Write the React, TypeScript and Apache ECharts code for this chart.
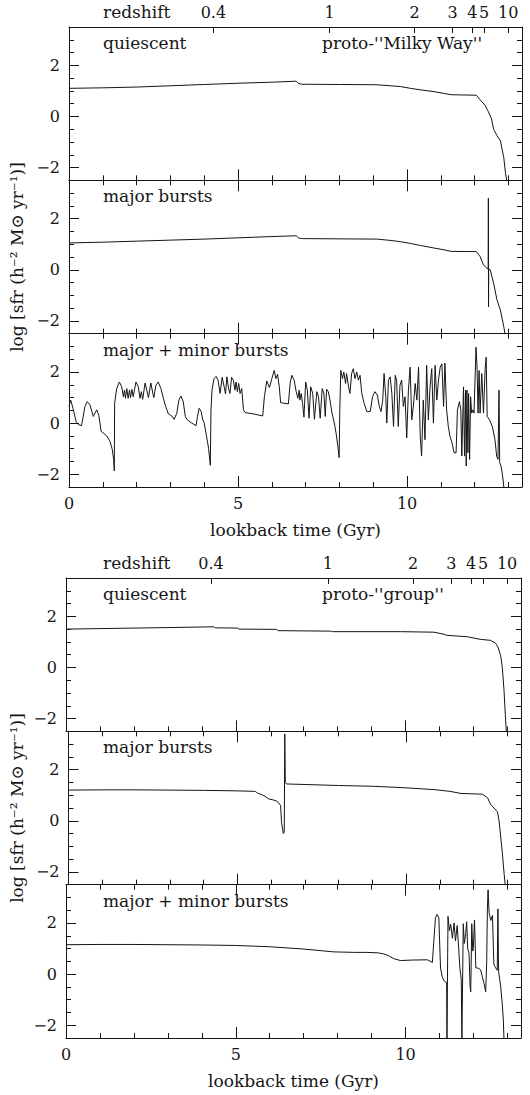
import React, { useEffect, useRef } from "react";
import * as echarts from "echarts";

// ---------- axis values ----------
const T_MAX = 13.4;
const Y_MIN = -2.5;
const Y_MAX = 3.5;
const redshiftLabels = ["0.4", "1", "2", "3", "4", "5", "10"];
const redshiftLookback = [4.27, 7.71, 10.22, 11.35, 11.93, 12.28, 12.99];
const xMajorTicks = [5, 10];
const xTickLabels = [0, 5, 10];
const yMajorTicks = [-2, 0, 2];

const panelLabels = ["quiescent", "major bursts", "major + minor bursts"];
const figureLabels = ["proto-''Milky Way''", "proto-''group''"];
const xName = "lookback time (Gyr)";
const yName = "log [sfr (h⁻² M⊙ yr⁻¹)]";

// ---------- series: [lookback time (Gyr), log sfr] ----------
const mwQuiescent = [
  [0, 1.1], [1, 1.12], [2, 1.15], [3, 1.2], [4, 1.25], [5, 1.3], [6, 1.34], [6.72, 1.38],
  [6.8, 1.28], [6.9, 1.26], [8, 1.25], [9.1, 1.24], [9.5, 1.2], [9.8, 1.17], [10.1, 1.1],
  [10.4, 1.04], [10.8, 0.97], [11.1, 0.9], [11.3, 0.85], [12.05, 0.83], [12.16, 0.65],
  [12.3, 0.45], [12.4, 0.2], [12.5, -0.1], [12.56, -0.5], [12.66, -0.75], [12.76, -0.95],
  [12.86, -1.6], [12.91, -2.2], [12.96, -2.6],
];

const mwMajor = [
  [0, 1.05], [1, 1.08], [2, 1.12], [3, 1.16], [4, 1.2], [5, 1.25], [6, 1.3], [6.72, 1.33],
  [6.8, 1.24], [6.9, 1.22], [8, 1.21], [9.1, 1.2], [9.5, 1.15], [9.8, 1.1], [10.1, 1.03],
  [10.4, 0.95], [10.8, 0.85], [11.1, 0.78], [11.3, 0.72], [12.05, 0.71], [12.16, 0.52],
  [12.26, 0.19], [12.36, 0.06], [12.4, 0.04], [12.405, 2.8], [12.41, -1.45], [12.415, 0.02],
  [12.46, 0.0], [12.56, -0.52], [12.66, -1.18], [12.76, -1.57], [12.86, -2.22], [12.91, -2.6],
];

const mwBursts = [
  [0, 0.65], [0.05, 0.9], [0.13, 0.52], [0.21, 0.06], [0.28, -0.06], [0.37, -0.1], [0.42, 0.26],
  [0.47, 0.65], [0.54, 0.84], [0.62, 0.71], [0.72, 0.26], [0.77, 0.39], [0.82, 0.52], [0.88, 0.32],
  [0.95, -0.32], [1.11, -0.49], [1.21, -0.71], [1.28, -1.03], [1.32, -1.42], [1.34, -1.87],
  [1.35, 0.77], [1.41, 1.35], [1.49, 1.61], [1.56, 1.42], [1.61, 1.03], [1.64, 1.29], [1.67, 0.97],
  [1.71, 1.35], [1.75, 0.97], [1.79, 1.29], [1.82, 1.0], [1.86, 1.32], [1.9, 1.03], [1.98, 1.61],
  [2.05, 1.42], [2.1, 0.97], [2.14, 1.23], [2.18, 0.93], [2.25, 1.57], [2.3, 1.29], [2.35, 1.0],
  [2.42, 1.57], [2.48, 1.16], [2.51, 1.0], [2.57, 1.48], [2.64, 1.61], [2.72, 1.35], [2.79, 0.97],
  [2.86, 0.65], [2.94, 0.36], [3.04, 0.28], [3.11, 0.15], [3.19, 0.39], [3.25, 0.9], [3.31, 1.06],
  [3.38, 0.84], [3.44, 0.26], [3.5, 0.13], [3.63, 0.0], [3.76, -0.1], [3.8, 0.26], [3.85, 0.58],
  [3.91, 0.45], [3.95, 0.15], [4.0, 0.0], [4.07, -0.52], [4.13, -1.0], [4.18, -1.65], [4.2, 0.52],
  [4.23, 1.29], [4.29, 1.74], [4.35, 1.83], [4.41, 1.68], [4.47, 1.16], [4.53, 1.79], [4.59, 1.42],
  [4.63, 1.14], [4.67, 1.81], [4.72, 1.35], [4.76, 1.16], [4.81, 1.79], [4.86, 1.68], [4.91, 1.29],
  [4.94, 1.61], [4.98, 1.23], [5.02, 1.55], [5.06, 1.16], [5.11, 1.35], [5.16, 0.52], [5.21, 0.41],
  [5.45, 0.36], [5.73, 0.28], [5.78, 1.03], [5.85, 1.65], [5.93, 1.39], [6.0, 1.74], [6.07, 2.06],
  [6.12, 1.74], [6.17, 1.91], [6.22, 1.42], [6.26, 0.8], [6.49, 0.75], [6.54, 1.55], [6.59, 1.87],
  [6.66, 1.68], [6.72, 1.23], [6.77, 0.97], [6.81, 1.29], [6.83, 0.9], [6.87, 1.16], [6.91, 0.77],
  [6.95, 0.23], [7.0, 1.61], [7.05, 1.29], [7.1, 0.19], [7.15, 1.42], [7.21, 1.16], [7.26, 0.15],
  [7.33, 1.23], [7.38, 1.03], [7.43, 0.19], [7.49, 1.35], [7.54, 1.16], [7.58, 0.26], [7.62, 1.32],
  [7.67, 1.23], [7.72, 0.9], [7.78, 0.39], [7.84, 0.06], [7.9, -0.39], [7.95, -0.88], [7.99, -1.35],
  [8.01, 0.52], [8.04, 2.06], [8.09, 1.74], [8.13, 2.0], [8.18, 1.55], [8.21, 1.94], [8.27, 1.42],
  [8.31, 1.16], [8.36, 1.94], [8.41, 2.13], [8.46, 1.74], [8.51, 2.0], [8.56, 1.68], [8.61, 1.87],
  [8.66, 1.16], [8.73, 0.77], [8.81, 0.45], [8.91, 0.45], [8.98, 1.03], [9.05, 1.23], [9.12, 1.1],
  [9.18, 0.65], [9.23, 0.45], [9.28, 0.9], [9.32, 1.94], [9.37, 1.03], [9.4, 0.0], [9.45, 1.68],
  [9.5, 1.81], [9.55, 1.16], [9.6, -0.13], [9.65, 1.87], [9.69, 1.68], [9.74, -0.13], [9.79, 1.48],
  [9.84, 1.68], [9.89, 0.65], [9.94, 1.03], [9.99, -0.58], [10.04, 1.29], [10.09, 2.19], [10.14, 0.13],
  [10.19, 0.71], [10.24, 1.55], [10.29, 0.9], [10.34, 2.19], [10.39, -0.52], [10.43, -1.29],
  [10.48, 0.9], [10.53, -0.65], [10.58, 2.26], [10.63, 0.13], [10.68, 1.42], [10.73, 2.13],
  [10.78, 0.0], [10.83, 2.26], [10.88, 0.9], [10.93, 1.68], [10.98, 2.19], [11.03, 2.32],
  [11.08, 0.65], [11.12, 2.35], [11.17, 0.52], [11.22, -0.13], [11.27, -0.52], [11.33, -0.77],
  [11.39, -1.16], [11.45, -1.16], [11.49, 0.52], [11.55, 0.84], [11.59, 0.52], [11.62, -1.29],
  [11.67, 1.42], [11.7, -1.29], [11.73, 1.29], [11.75, -1.68], [11.77, 1.29], [11.8, -1.16],
  [11.82, 1.16], [11.85, -1.42], [11.88, 1.03], [11.91, 0.39], [11.95, 0.52], [11.98, 0.39],
  [12.01, 1.68], [12.04, 2.97], [12.07, 2.19], [12.1, 0.39], [12.13, 2.06], [12.16, 0.39],
  [12.21, 1.94], [12.26, 0.39], [12.31, 2.13], [12.34, 2.58], [12.37, 0.26], [12.44, 0.13],
  [12.52, -0.13], [12.6, -0.65], [12.65, -1.29], [12.69, -1.42], [12.72, 1.29], [12.74, -1.55],
  [12.78, -1.68], [12.82, -2.0], [12.87, -2.6],
];

const grQuiescent = [
  [0, 1.5], [1, 1.52], [2, 1.54], [3, 1.56], [4.35, 1.59], [4.4, 1.55], [5.05, 1.54], [5.1, 1.5],
  [6.2, 1.49], [6.25, 1.44], [7.8, 1.42], [7.85, 1.4], [9.85, 1.4], [10.83, 1.38], [11.13, 1.3],
  [11.2, 1.26], [11.82, 1.2], [12.2, 1.1], [12.5, 1.06], [12.65, 0.95], [12.72, 0.8], [12.8, 0.47],
  [12.85, 0.0], [12.9, -0.9], [12.94, -1.9], [12.97, -2.6],
];

const grMajor = [
  [0, 1.2], [1, 1.21], [2, 1.21], [3, 1.2], [4, 1.19], [5, 1.17], [5.53, 1.15], [5.6, 1.08],
  [5.67, 1.05], [5.75, 1.0], [5.82, 0.96], [5.92, 0.86], [6.05, 0.82], [6.15, 0.78], [6.22, 0.71],
  [6.28, 0.6], [6.31, -0.07], [6.36, -0.5], [6.39, -0.45], [6.405, 3.4], [6.42, 1.5], [6.46, 1.44],
  [7, 1.42], [8, 1.38], [9, 1.35], [9.85, 1.3], [10.83, 1.22], [11.3, 1.15], [11.62, 1.07],
  [12.26, 1.04], [12.41, 0.9], [12.5, 0.64], [12.6, 0.5], [12.7, 0.36], [12.75, 0.0], [12.8, -0.64],
  [12.85, -1.3], [12.9, -2.07], [12.94, -2.6],
];

const grBursts = [
  [0, 1.15], [1, 1.16], [2, 1.16], [3, 1.15], [4, 1.14], [5, 1.12], [6, 1.07], [7, 0.98], [7.88, 0.87],
  [8.5, 0.85], [8.87, 0.85], [9.2, 0.83], [9.36, 0.79], [9.5, 0.72], [9.66, 0.6], [9.85, 0.53],
  [10.2, 0.55], [10.64, 0.56], [10.79, 0.46], [10.83, 1.25], [10.88, 2.2], [10.93, 2.33], [10.98, 2.2],
  [11.03, 0.24], [11.08, -0.1], [11.13, -0.26], [11.21, -0.33], [11.22, -2.6], [11.24, -2.6],
  [11.25, 2.26], [11.29, 1.7], [11.33, 1.95], [11.38, 1.4], [11.43, 2.0], [11.47, 1.3], [11.52, 1.9],
  [11.56, 1.1], [11.6, 0.24], [11.64, -0.2], [11.66, -2.6], [11.68, -2.6], [11.7, 1.97], [11.73, 1.2],
  [11.77, 1.55], [11.8, 2.05], [11.83, 1.0], [11.87, 0.8], [11.9, -0.5], [11.92, -0.69], [11.95, 1.97],
  [11.98, 0.9], [12.0, 1.1], [12.03, 2.12], [12.05, 1.2], [12.07, 0.24], [12.13, 0.24], [12.21, 0.17],
  [12.26, -0.1], [12.31, -0.36], [12.36, -0.69], [12.39, 0.5], [12.41, 2.55], [12.43, 3.3],
  [12.46, 2.4], [12.51, 2.1], [12.56, 2.3], [12.6, 0.39], [12.65, 0.25], [12.7, 0.15], [12.72, 2.55],
  [12.74, 0.1], [12.8, -0.47], [12.85, -1.2], [12.88, -1.8], [12.9, -2.6],
];

const figureSeries = [
  [mwQuiescent, mwMajor, mwBursts],
  [grQuiescent, grMajor, grBursts],
];

// ---------- layout / style ----------
const INK = "#151515";
const FONT = "DejaVu Serif";
const PANEL_H = 153.33;
const FIGS = [
  { left: 69, right: 8, top: 27 },
  { left: 66, right: 9, top: 578 },
];

const fmtY = (v: number) => (v < 0 ? "\u2212" + Math.abs(v) : String(v));
const fmtZ = (v: number) => {
  let best = 0;
  for (let i = 1; i < redshiftLookback.length; i++) {
    if (Math.abs(redshiftLookback[i] - v) < Math.abs(redshiftLookback[best] - v)) best = i;
  }
  return redshiftLabels[best];
};

function buildOption() {
  const lineStyle = { color: INK, width: 1 };
  const grids: any[] = [];
  const xAxes: any[] = [];
  const yAxes: any[] = [];
  const series: any[] = [];
  const graphics: any[] = [];

  const minorX = (gi: number, pos: string) => ({
    type: "value", gridIndex: gi, position: pos, min: 0, max: T_MAX, interval: 1,
    axisLine: { show: true, onZero: false, lineStyle },
    axisTick: { show: true, inside: true, length: 5, lineStyle },
    axisLabel: { show: false }, splitLine: { show: false },
  });
  const majorX = (gi: number, pos: string, labels: boolean) => ({
    type: "value", gridIndex: gi, position: pos, min: 0, max: T_MAX,
    axisLine: { show: false, onZero: false },
    axisTick: { show: true, inside: true, length: 11, customValues: xMajorTicks, lineStyle },
    axisLabel: {
      show: labels, customValues: xTickLabels, margin: 9, color: INK,
      fontFamily: FONT, fontSize: 16,
    },
    splitLine: { show: false },
    name: labels ? xName : "", nameLocation: "middle", nameGap: 35,
    nameTextStyle: { color: INK, fontFamily: FONT, fontSize: 17 },
  });
  const redshiftX = (gi: number) => ({
    type: "value", gridIndex: gi, position: "top", min: 0, max: T_MAX,
    axisLine: { show: true, onZero: false, lineStyle },
    axisTick: { show: true, inside: true, length: 6, customValues: redshiftLookback, lineStyle },
    axisLabel: {
      show: true, customValues: redshiftLookback, formatter: fmtZ, margin: 7, color: INK,
      fontFamily: FONT, fontSize: 16,
    },
    splitLine: { show: false },
  });
  const minorY = (gi: number, pos: string) => ({
    type: "value", gridIndex: gi, position: pos, min: Y_MIN, max: Y_MAX, interval: 0.5,
    axisLine: { show: true, onZero: false, lineStyle },
    axisTick: { show: true, inside: true, length: 5, lineStyle },
    axisLabel: { show: false }, splitLine: { show: false },
  });
  const majorY = (gi: number, pos: string, labels: boolean, named: boolean) => ({
    type: "value", gridIndex: gi, position: pos, min: Y_MIN, max: Y_MAX,
    axisLine: { show: false, onZero: false },
    axisTick: { show: true, inside: true, length: 10, customValues: yMajorTicks, lineStyle },
    axisLabel: {
      show: labels, customValues: yMajorTicks, formatter: fmtY, margin: 9, color: INK,
      fontFamily: FONT, fontSize: 16,
    },
    splitLine: { show: false },
    name: named ? yName : "", nameLocation: "middle", nameGap: 39, nameRotate: 90,
    nameTextStyle: { color: INK, fontFamily: FONT, fontSize: 17 },
  });

  FIGS.forEach((fig, f) => {
    for (let p = 0; p < 3; p++) {
      const gi = grids.length;
      const top = fig.top + p * PANEL_H;
      grids.push({ left: fig.left, right: fig.right, top, height: PANEL_H });
      const xi = xAxes.length;
      xAxes.push(minorX(gi, "bottom"));
      xAxes.push(majorX(gi, "bottom", p === 2));
      if (p === 0) {
        xAxes.push(redshiftX(gi));
      } else {
        xAxes.push(minorX(gi, "top"));
        xAxes.push(majorX(gi, "top", false));
      }
      const yi = yAxes.length;
      yAxes.push(minorY(gi, "left"));
      yAxes.push(majorY(gi, "left", true, p === 1));
      yAxes.push(minorY(gi, "right"));
      yAxes.push(majorY(gi, "right", false, false));

      series.push({
        type: "line", xAxisIndex: xi, yAxisIndex: yi, data: figureSeries[f][p],
        showSymbol: false, symbol: "none", clip: true, silent: true,
        lineStyle: { color: INK, width: 1 },
      });

      graphics.push({
        type: "text", x: 103, y: top + 16,
        style: { text: panelLabels[p], fill: INK, fontFamily: FONT, fontSize: 17, verticalAlign: "middle" },
      });
      if (p === 0) {
        graphics.push({
          type: "text", x: 322, y: top + 16,
          style: { text: figureLabels[f], fill: INK, fontFamily: FONT, fontSize: 17, verticalAlign: "middle" },
        });
        graphics.push({
          type: "text", x: 103, y: top - 15,
          style: { text: "redshift", fill: INK, fontFamily: FONT, fontSize: 17, verticalAlign: "middle" },
        });
      }
    }
  });

  return {
    animation: false,
    backgroundColor: "#ffffff",
    grid: grids,
    xAxis: xAxes,
    yAxis: yAxes,
    series,
    graphic: graphics,
  };
}

export default function App() {
  const ref = useRef<HTMLDivElement>(null);
  useEffect(() => {
    if (!ref.current) return;
    const chart = echarts.init(ref.current, undefined, { renderer: "svg" });
    chart.setOption(buildOption() as any);
    return () => chart.dispose();
  }, []);
  return (
    <div
      ref={ref}
      style={{ position: "absolute", left: 0, top: 0, width: 530, height: 1095, background: "#fff" }}
    />
  );
}
